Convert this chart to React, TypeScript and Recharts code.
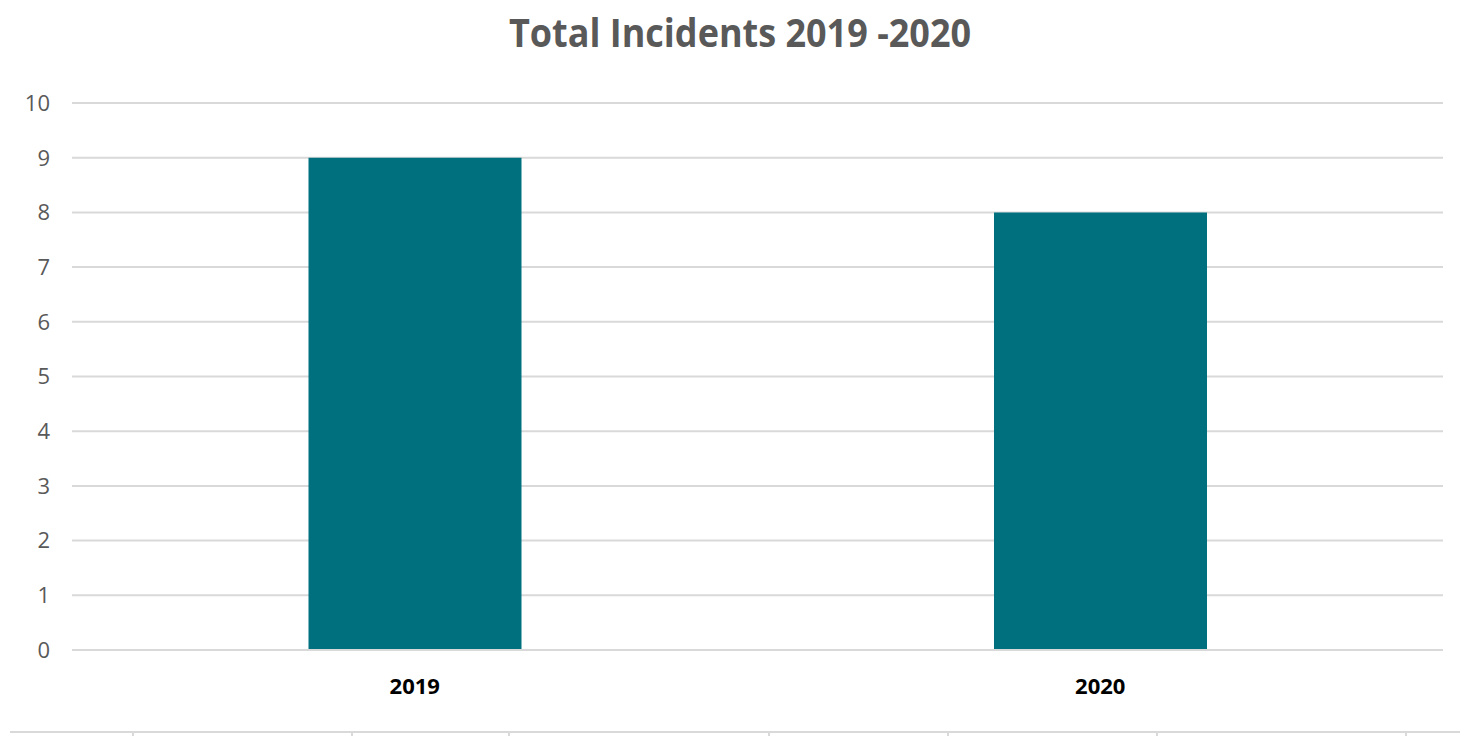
import React from "react";
import { BarChart, Bar, XAxis, YAxis, CartesianGrid } from "recharts";

const years = ["2019", "2020"];
const incidents = [9, 8];
const yTicks = [0, 1, 2, 3, 4, 5, 6, 7, 8, 9, 10];

const data = years.map((year, i) => ({ year, incidents: incidents[i] }));

const FONT = '"Liberation Sans Narrow", "Open Sans", sans-serif';
const dividerTicks = [132, 351, 508, 768, 947, 1156, 1405];

export default function App() {
  return (
    <div style={{ position: "absolute", left: 0, top: 0, width: 1460, height: 736, background: "#fff", fontFamily: FONT }}>
      <div
        style={{
          position: "absolute",
          top: 8,
          left: 0,
          width: 1480,
          textAlign: "center",
          fontSize: 40,
          fontWeight: 700,
          color: "#595959",
          lineHeight: "48px",
          transform: "scaleX(0.9)",
          transformOrigin: "740px 0",
        }}
      >
        Total Incidents 2019 -2020
      </div>
      <BarChart width={1460} height={736} data={data} margin={{ top: 103, right: 17, left: 0, bottom: 0 }} barCategoryGap="34.5%">
        <CartesianGrid vertical={false} stroke="#d9d9d9" strokeWidth={2} />
        <XAxis
          dataKey="year"
          height={86}
          axisLine={{ stroke: "#d9d9d9", strokeWidth: 2 }}
          tickLine={false}
          tickSize={0}
          tickMargin={28}
          tick={{ fill: "#000", fontSize: 22, fontWeight: 700, fontFamily: FONT }}
        />
        <YAxis
          width={72}
          domain={[0, 10]}
          ticks={yTicks}
          interval={0}
          axisLine={false}
          tickLine={false}
          tickSize={0}
          tickMargin={22}
          tick={{ fill: "#595959", fontSize: 22, fontFamily: FONT }}
        />
        <Bar dataKey="incidents" fill="#00707E" isAnimationActive={false} />
      </BarChart>
      <div style={{ position: "absolute", left: 10, top: 731, width: 1450, borderTop: "2px solid #d9d9d9" }} />
      {dividerTicks.map((x) => (
        <div key={x} style={{ position: "absolute", left: x, top: 731, width: 2, height: 5, background: "#d9d9d9" }} />
      ))}
    </div>
  );
}
